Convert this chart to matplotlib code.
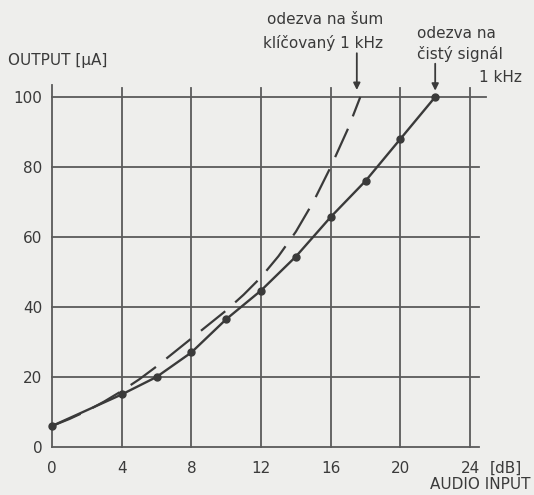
import matplotlib
matplotlib.use("Agg")
import matplotlib.pyplot as plt

# solid curve: response to clean 1 kHz signal (measured points)
clean_db = [0, 4, 6, 8, 10, 12, 14, 16, 18, 20, 22]
clean_ua = [6, 15, 20, 27, 36.5, 44.7, 54.4, 65.7, 76, 88, 100]

# dashed curve: response to keyed noise 1 kHz
noise_db = [0, 1, 2, 3, 4, 5, 6, 7, 8, 9, 10, 11, 12, 13, 14, 15, 16, 17, 17.7]
noise_ua = [6, 8, 10.3, 13, 16, 19.3, 23, 27, 31, 35, 39, 43.5, 48.5, 54.5,
            61.5, 70, 80, 91, 100]

x_ticks = [0, 4, 8, 12, 16, 20, 24]
y_ticks = [0, 20, 40, 60, 80, 100]

BG = "#eeeeec"
INK = "#3a3a3a"
GRID = "#5a5a5a"

fig = plt.figure(figsize=(5.34, 4.95), dpi=100, facecolor=BG)
ax = fig.add_axes([0.0974, 0.0970, 0.7828, 0.7071], facecolor=BG)
ax.set_xlim(0, 24)
ax.set_ylim(0, 100)
for s in ax.spines.values():
    s.set_visible(False)

# hand-drawn style grid, slightly overshooting the frame
for x in x_ticks:
    top = 103.5 if x == 0 else 102.5
    ax.plot([x, x], [0, top], color=GRID, lw=1.3, clip_on=False, zorder=1)
for y in y_ticks:
    right = 24.9 if y == 100 else 24.5
    ax.plot([0, right], [y, y], color=GRID, lw=1.3, clip_on=False, zorder=1)

ax.plot(noise_db, noise_ua, color=INK, lw=1.6, dashes=(14, 6),
        clip_on=False, zorder=2)
ax.plot(clean_db, clean_ua, color=INK, lw=1.7, marker="o", markersize=5,
        clip_on=False, zorder=3)

ax.set_xticks(x_ticks)
ax.set_yticks(y_ticks)
ax.tick_params(length=0, labelsize=11, labelcolor=INK)
ax.tick_params(axis="x", pad=10)
ax.tick_params(axis="y", pad=7)

fig.text(0.015, 0.878, "OUTPUT [μA]", fontsize=11, color=INK, va="center")
fig.text(0.918, 0.054, "[dB]", fontsize=11, color=INK, va="center")
fig.text(0.993, 0.022, "AUDIO INPUT", fontsize=11, color=INK,
         ha="right", va="center")

# annotation for the dashed curve
fig.text(383 / 534, 1 - 20 / 495, "odezva na šum", fontsize=11, color=INK,
         ha="right", va="center")
fig.text(383 / 534, 1 - 43 / 495, "klíčovaný 1 kHz", fontsize=11, color=INK,
         ha="right", va="center")
ax.annotate("", xy=(17.5, 102), xytext=(17.5, 112.5),
            annotation_clip=False,
            arrowprops=dict(arrowstyle="-|>", color=INK, lw=1.3,
                            shrinkA=0, shrinkB=0))

# annotation for the solid curve
fig.text(417 / 534, 1 - 33 / 495, "odezva na", fontsize=11, color=INK,
         va="center")
fig.text(417 / 534, 1 - 54 / 495, "čistý signál", fontsize=11, color=INK,
         va="center")
fig.text(522 / 534, 1 - 77 / 495, "1 kHz", fontsize=11, color=INK,
         ha="right", va="center")
ax.annotate("", xy=(22, 101.8), xytext=(22, 109.5),
            annotation_clip=False,
            arrowprops=dict(arrowstyle="-|>", color=INK, lw=1.3,
                            shrinkA=0, shrinkB=0))

fig.savefig("out.png", dpi=100, facecolor=BG)
